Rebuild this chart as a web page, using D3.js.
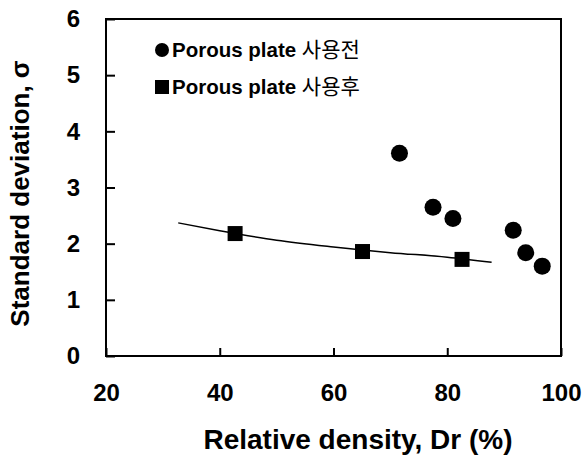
<!DOCTYPE html>
<html>
<head>
<meta charset="utf-8">
<script src="https://cdn.jsdelivr.net/npm/d3@7"></script>
<style>
  body { margin: 0; background: #fff; }
  text { font-family: "Liberation Sans", Arial, sans-serif; font-weight: bold; fill: #000; }
  .kr { font-family: "Noto Sans CJK KR", sans-serif; font-weight: normal; }
</style>
</head>
<body>
<script>
// before using porous plate (circles)
const beforeDr = [71.6, 77.5, 81.0, 91.6, 93.8, 96.7];
const beforeSd = [3.61, 2.65, 2.45, 2.24, 1.84, 1.60];
// after using porous plate (squares)
const afterDr = [42.7, 65.1, 82.6];
const afterSd = [2.18, 1.86, 1.72];
// trend line
const trendDr = [32.7, 40, 50, 60, 70, 80, 87.8];
const trendSd = [2.37, 2.23, 2.06, 1.94, 1.84, 1.76, 1.67];

const xTicks = [20, 40, 60, 80, 100];
const yTicks = [0, 1, 2, 3, 4, 5, 6];
const legendLabels = ["사용전", "사용후"];

const width = 587, height = 459;
const margin = {top: 19, right: 26, bottom: 103, left: 106};

const svg = d3.select("body").append("svg")
  .attr("width", width)
  .attr("height", height);

const x = d3.scaleLinear().domain([20, 100]).range([margin.left, width - margin.right]);
const y = d3.scaleLinear().domain([0, 6]).range([height - margin.bottom, margin.top]);

// frame
svg.append("rect")
  .attr("x", x(20)).attr("y", y(6))
  .attr("width", x(100) - x(20)).attr("height", y(0) - y(6))
  .attr("fill", "none").attr("stroke", "#000").attr("stroke-width", 2);

// x axis, ticks pointing inward
const xAxis = svg.append("g")
  .attr("transform", `translate(0,${y(0)})`)
  .call(d3.axisBottom(x).tickValues(xTicks).tickSize(-8).tickPadding(28).tickFormat(d3.format("d")));
xAxis.select(".domain").remove();
xAxis.selectAll("line").attr("stroke-width", 2);
xAxis.selectAll("text")
  .attr("font-size", 24)
  .attr("font-family", "Liberation Sans, Arial, sans-serif")
  .attr("font-weight", "bold");

// y axis
const yAxis = svg.append("g")
  .attr("transform", `translate(${x(20)},0)`)
  .call(d3.axisLeft(y).tickValues(yTicks).tickSize(-9).tickPadding(26).tickFormat(d3.format("d")));
yAxis.select(".domain").remove();
yAxis.selectAll("line").attr("stroke-width", 2);
yAxis.selectAll("text")
  .attr("font-size", 24)
  .attr("font-family", "Liberation Sans, Arial, sans-serif")
  .attr("font-weight", "bold");

// axis titles
svg.append("text")
  .attr("x", 358)
  .attr("y", 449)
  .attr("text-anchor", "middle")
  .attr("font-size", 28)
  .text("Relative density, Dr (%)");

svg.append("text")
  .attr("transform", `translate(29,${(y(0) + y(6)) / 2 + 6}) rotate(-90)`)
  .attr("text-anchor", "middle")
  .attr("font-size", 26)
  .text("Standard deviation, σ");

// trend line
const line = d3.line()
  .x(d => x(d[0]))
  .y(d => y(d[1]))
  .curve(d3.curveMonotoneX);

svg.append("path")
  .datum(d3.zip(trendDr, trendSd))
  .attr("d", line)
  .attr("fill", "none")
  .attr("stroke", "#000")
  .attr("stroke-width", 1.5);

// markers
svg.selectAll(".before")
  .data(d3.zip(beforeDr, beforeSd))
  .enter().append("circle")
  .attr("class", "before")
  .attr("cx", d => x(d[0]))
  .attr("cy", d => y(d[1]))
  .attr("r", 8.5)
  .attr("fill", "#000");

const sq = 15;
svg.selectAll(".after")
  .data(d3.zip(afterDr, afterSd))
  .enter().append("rect")
  .attr("class", "after")
  .attr("x", d => x(d[0]) - sq / 2)
  .attr("y", d => y(d[1]) - sq / 2)
  .attr("width", sq)
  .attr("height", sq)
  .attr("fill", "#000");

// legend
const legend = svg.append("g");
legend.append("circle").attr("cx", 162).attr("cy", 50).attr("r", 7).attr("fill", "#000");
legend.append("rect").attr("x", 155).attr("y", 80).attr("width", 14).attr("height", 14).attr("fill", "#000");

legendLabels.forEach((lab, i) => {
  const t = legend.append("text")
    .attr("x", 172)
    .attr("y", 57 + i * 37)
    .attr("font-size", 20.5);
  t.append("tspan").text("Porous plate ");
  t.append("tspan").attr("class", "kr").attr("font-size", 21).text(lab);
});
</script>
</body>
</html>
